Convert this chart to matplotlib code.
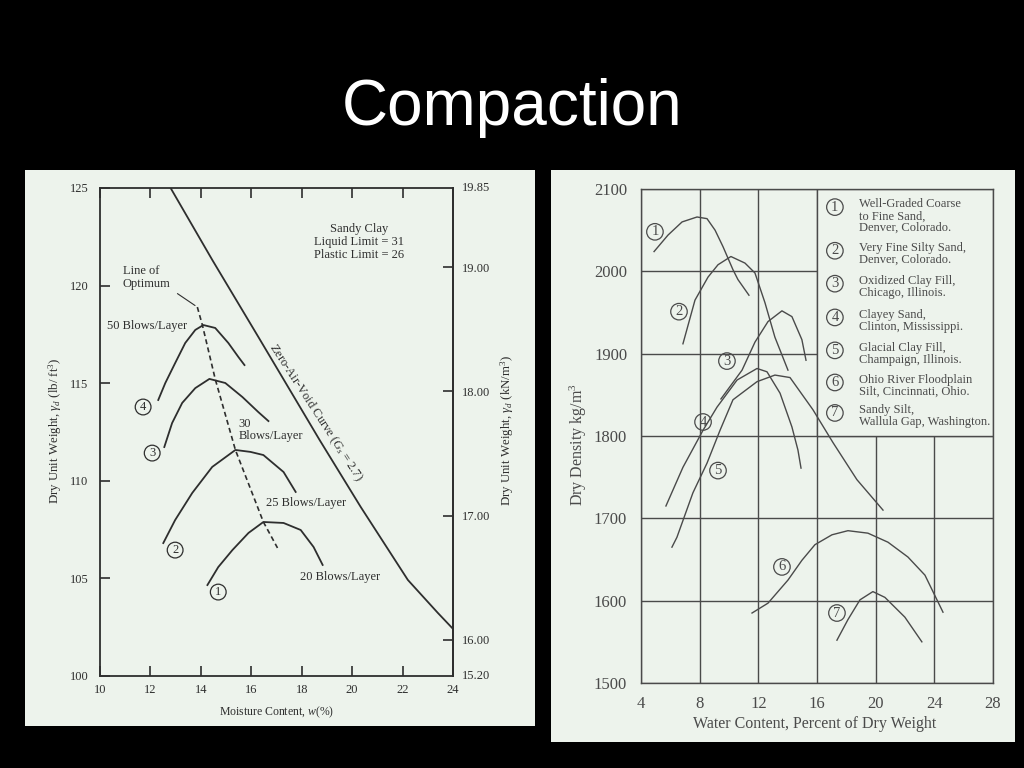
import matplotlib
matplotlib.use("Agg")
import matplotlib.pyplot as plt
from matplotlib import font_manager
from matplotlib.patches import Rectangle
from matplotlib.ticker import FormatStrFormatter

plt.rcParams['font.family'] = ['Liberation Serif', 'DejaVu Serif']
plt.rcParams['mathtext.fontset'] = 'custom'
plt.rcParams['mathtext.rm'] = 'Liberation Serif'
plt.rcParams['mathtext.it'] = 'Liberation Serif:italic'

# ---- left chart: sandy clay, dry unit weight (lb/ft3) vs moisture content (%)
w_50 = [12.31, 12.59, 12.98, 13.38, 13.78, 14.10, 14.57, 15.09, 15.49, 15.73]
gd_50 = [114.14, 115.01, 116.03, 117.06, 117.73, 117.98, 117.83, 117.06, 116.34, 115.93]
w_30 = [12.55, 12.86, 13.26, 13.78, 14.34, 14.97, 15.65, 16.28, 16.68]
gd_30 = [111.73, 112.96, 113.99, 114.75, 115.22, 115.01, 114.29, 113.52, 113.06]
w_25 = [12.51, 12.98, 13.66, 14.45, 15.37, 15.97, 16.48, 17.28, 17.76]
gd_25 = [106.81, 107.99, 109.38, 110.71, 111.58, 111.48, 111.32, 110.45, 109.43]
w_20 = [14.26, 14.69, 15.25, 15.89, 16.48, 17.28, 17.96, 18.47, 18.83]
gd_20 = [104.66, 105.58, 106.45, 107.33, 107.89, 107.84, 107.48, 106.61, 105.69]
w_zav = [12.80, 14.46, 16.28, 18.71, 20.34, 22.21, 23.40, 24.04]
gd_zav = [125.0, 121.3, 117.37, 112.09, 108.66, 104.92, 103.23, 102.36]
w_opt = [13.86, 14.06, 14.57, 15.37, 16.48, 17.04]
gd_opt = [118.90, 117.98, 115.21, 111.58, 107.89, 106.56]
left_curves = [(w_50, gd_50), (w_30, gd_30), (w_25, gd_25), (w_20, gd_20)]
left_nums = ['4', '3', '2', '1']
left_num_w = [11.71, 12.07, 12.98, 14.69]
left_num_gd = [113.78, 111.42, 106.45, 104.30]
blow_labels = ['50 Blows/Layer', '30\nBlows/Layer', '25 Blows/Layer', '20 Blows/Layer']
blow_w = [10.28, 15.49, 16.60, 17.92]
blow_gd = [117.93, 112.60, 108.86, 105.07]
kn_ticks = [16, 17, 18, 19]
LB_TO_KN = 0.1571

# ---- right chart: dry density (kg/m3) vs water content (%)
r_x = [
    [4.89, 5.84, 6.80, 7.82, 8.50, 9.05, 9.59, 9.93, 10.27, 10.61, 11.36],
    [6.86, 7.68, 8.57, 9.25, 10.13, 11.09, 11.77, 12.45, 13.13, 14.02],
    [9.45, 10.89, 11.77, 12.66, 13.61, 14.29, 14.97, 15.25],
    [5.70, 6.86, 8.23, 9.18, 10.55, 11.91, 12.59, 13.48, 14.29, 14.70, 14.91],
    [6.11, 6.45, 7.54, 8.50, 9.39, 10.27, 11.91, 13.13, 14.16, 15.72, 17.09, 18.72, 20.50],
    [11.57, 12.66, 14.02, 14.97, 15.86, 17.02, 18.11, 19.47, 20.84, 22.20, 23.36, 24.59],
    [17.36, 18.11, 18.93, 19.81, 20.63, 21.99, 23.15],
]
r_y = [
    [2024, 2044, 2060, 2066, 2064, 2050, 2030, 2016, 2002, 1990, 1971],
    [1912, 1965, 1993, 2008, 2018, 2010, 1998, 1962, 1920, 1880],
    [1845, 1880, 1914, 1939, 1952, 1945, 1917, 1892],
    [1715, 1762, 1807, 1835, 1868, 1882, 1878, 1852, 1811, 1783, 1761],
    [1665, 1677, 1731, 1767, 1807, 1844, 1866, 1874, 1871, 1832, 1792, 1747, 1710],
    [1585, 1597, 1625, 1649, 1668, 1680, 1685, 1682, 1671, 1653, 1631, 1586],
    [1552, 1577, 1601, 1611, 1604, 1580, 1550],
]
r_num_x = [4.95, 6.59, 9.86, 8.23, 9.25, 13.61, 17.36]
r_num_y = [2048, 1951, 1891, 1817, 1758, 1641, 1585]
soils = [
    'Well-Graded Coarse\nto Fine Sand,\nDenver, Colorado.',
    'Very Fine Silty Sand,\nDenver, Colorado.',
    'Oxidized Clay Fill,\nChicago, Illinois.',
    'Clayey Sand,\nClinton, Mississippi.',
    'Glacial Clay Fill,\nChampaign, Illinois.',
    'Ohio River Floodplain\nSilt, Cincinnati, Ohio.',
    'Sandy Silt,\nWallula Gap, Washington.',
]
soil_y = [2081, 2028, 1988, 1947, 1907, 1868, 1831]

BG = '#edf3ec'
INK = '#2e2e2e'
INK2 = '#4a4a4a'


def fx(px):
    return px / 1024


def fy(py):
    return 1 - py / 768


fig = plt.figure(figsize=(10.24, 7.68), dpi=100, facecolor='black')

names = {f.name for f in font_manager.fontManager.ttflist}
if 'Liberation Sans Narrow' in names:
    fig.text(0.5, fy(125), 'Compaction', color='white', fontsize=54,
             family='Liberation Sans Narrow', ha='center', va='baseline')
else:
    fig.text(0.5, fy(125), 'Compaction', color='white', fontsize=46,
             family='Liberation Sans', ha='center', va='baseline')

# paper panels
fig.add_artist(Rectangle((fx(25), fy(726)), 510 / 1024, 556 / 768,
                         transform=fig.transFigure, fc=BG, ec='none', zorder=-1))
fig.add_artist(Rectangle((fx(551), fy(742)), 464 / 1024, 572 / 768,
                         transform=fig.transFigure, fc=BG, ec='none', zorder=-1))

# ---------------- left chart
ax1 = fig.add_axes([fx(100), fy(676), 353 / 1024, 488 / 768])
ax1.set_facecolor('none')
for (w, g) in left_curves:
    ax1.plot(w, g, color=INK, lw=1.3)
ax1.plot(w_zav, gd_zav, color=INK, lw=1.3)
ax1.plot(w_opt, gd_opt, color=INK, lw=1.2, linestyle=(0, (3, 2)))
for s, x, y in zip(left_nums, left_num_w, left_num_gd):
    ax1.text(x, y, s, fontsize=9, color=INK, ha='center', va='center',
             bbox=dict(boxstyle='circle,pad=0.15', fc='none', ec=INK, lw=0.9))
for s, x, y in zip(blow_labels, blow_w, blow_gd):
    ax1.text(x, y, s, fontsize=9, color=INK, ha='left', va='center', linespacing=1.05)
ax1.text(10.91, 120.4, 'Line of\nOptimum', fontsize=9, color=INK, ha='left', va='center',
         linespacing=1.1)
ax1.annotate('', xy=(w_opt[0], gd_opt[0]), xytext=(12.98, 119.67),
             arrowprops=dict(arrowstyle='-', color=INK, lw=0.8))
ax1.text(20.26, 122.23, 'Sandy Clay\nLiquid Limit = 31\nPlastic Limit = 26', fontsize=9,
         color=INK, ha='center', va='center', linespacing=1.1)
ax1.text(18.55, 113.5, 'Zero-Air-Void Curve ($G_s$ = 2.7)', fontsize=9, color=INK,
         rotation=-57, rotation_mode='anchor', ha='center', va='center')

ax1.set_xlim(10, 24)
ax1.set_ylim(100, 125)
ax1.set_xticks(range(10, 25, 2))
ax1.set_yticks(range(100, 126, 5))
ax1.tick_params(direction='in', length=7, width=1.2, top=True, labelsize=9,
                colors=INK)
ax1.tick_params(axis='x', pad=6)
ax1.tick_params(axis='y', pad=8.5)
for sp in ax1.spines.values():
    sp.set_color(INK)
    sp.set_linewidth(1.3)

sec = ax1.secondary_yaxis('right', functions=(lambda y: y * LB_TO_KN,
                                              lambda k: k / LB_TO_KN))
sec.set_yticks(kn_ticks)
sec.yaxis.set_major_formatter(FormatStrFormatter('%.2f'))
sec.tick_params(direction='in', length=7, width=1.2, labelsize=9, pad=6.5, colors=INK)
sec.spines['right'].set_color(INK)
sec.spines['right'].set_linewidth(1.3)
ax1.annotate('19.85', xy=(1, 1), xycoords='axes fraction', xytext=(6.5, 0),
             textcoords='offset points', ha='left', va='center', fontsize=9, color=INK)
ax1.annotate('15.20', xy=(1, 0), xycoords='axes fraction', xytext=(6.5, 0),
             textcoords='offset points', ha='left', va='center', fontsize=9, color=INK)

fig.text(fx(55), fy(431), r'Dry Unit Weight, $\gamma_d$ (lb/ ft$^3$)', rotation=90,
         ha='center', va='center', fontsize=9.3, color=INK)
fig.text(fx(507), fy(430), r'Dry Unit Weight, $\gamma_d$ (kN/m$^3$)', rotation=90,
         ha='center', va='center', fontsize=9.3, color=INK)
fig.text(fx(277), fy(712), r'Moisture Content, $w$(%)', ha='center', va='center',
         fontsize=8.5, color=INK)

# ---------------- right chart
ax2 = fig.add_axes([fx(641), fy(683), 352 / 1024, 494 / 768])
ax2.set_facecolor('none')
ax2.set_xlim(4, 28)
ax2.set_ylim(1500, 2100)
ax2.set_xticks(range(4, 29, 4))
ax2.set_yticks(range(1500, 2101, 100))
ax2.set_axisbelow(True)
ax2.grid(True, color=INK2, lw=1.0)
ax2.add_patch(Rectangle((16, 1800), 12, 300, fc=BG, ec=INK2, lw=1.0, zorder=1))
for xs, ys in zip(r_x, r_y):
    ax2.plot(xs, ys, color=INK2, lw=1.0, zorder=2)
for i, (x, y) in enumerate(zip(r_num_x, r_num_y)):
    ax2.text(x, y, str(i + 1), fontsize=10.5, color=INK2, ha='center', va='center',
             bbox=dict(boxstyle='circle,pad=0.12', fc='none', ec=INK2, lw=0.9))
for i, (s, y) in enumerate(zip(soils, soil_y)):
    ax2.text(17.22, y - 3, str(i + 1), fontsize=10.5, color=INK2, ha='center',
             va='center', bbox=dict(boxstyle='circle,pad=0.12', fc='none', ec=INK2,
                                    lw=0.9))
    ax2.text(18.86, y + 7.5, s, fontsize=9, color=INK2, ha='left', va='top',
             linespacing=0.98)
ax2.tick_params(length=0, labelsize=12, colors=INK2)
ax2.tick_params(axis='x', pad=9)
ax2.tick_params(axis='y', pad=10)
for sp in ax2.spines.values():
    sp.set_color(INK2)
    sp.set_linewidth(1.0)
fig.text(fx(578), fy(445), 'Dry Density kg/m$^3$', rotation=90, ha='center',
         va='center', fontsize=11.5, color=INK2)
fig.text(fx(815), fy(724), 'Water Content, Percent of Dry Weight', ha='center',
         va='center', fontsize=11.5, color=INK2)

fig.savefig('out.png', dpi=100, facecolor='black')
